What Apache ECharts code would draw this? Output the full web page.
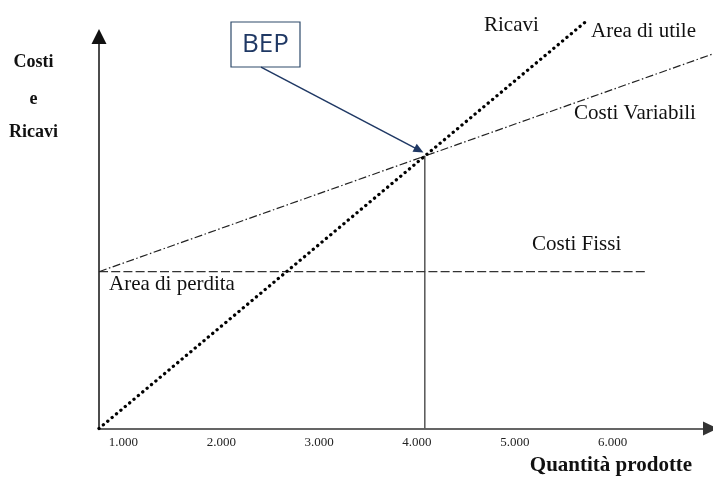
<!DOCTYPE html>
<html>
<head>
<meta charset="utf-8">
<script src="https://cdn.jsdelivr.net/npm/echarts@6/dist/echarts.min.js"></script>
<style>
  html, body { margin: 0; padding: 0; background: #ffffff; }
  #chart { width: 713px; height: 484px; }
</style>
</head>
<body>
<div id="chart"></div>
<script>
// Quantity axis ticks
const xTickValues = [1000, 2000, 3000, 4000, 5000, 6000];
const xTickLabels = ['1.000', '2.000', '3.000', '4.000', '5.000', '6.000'];

// Break-even point (quantity, costs/revenues)
const bepPoint = [4080, 69.5];

// Revenue line (dotted)
const ricavi = [[750, 0], bepPoint, [5735, 104]];
// Total / variable costs line (dash-dot)
const costiVariabili = [[750, 40], bepPoint, [7030, 95.6]];
// Fixed costs line (dashed)
const costiFissi = [[750, 40], [6350, 40]];
// Drop line from the BEP to the quantity axis
const bepDrop = [bepPoint, [bepPoint[0], 0]];
// Pointer from the BEP callout to the break-even point
const bepPointer = [[2406, 92.2], [4021, 71.0]];

const serif = '"Liberation Serif", "Times New Roman", serif';
const navy = '#1f3864';

const chart = echarts.init(document.getElementById('chart'), null, { renderer: 'canvas' });

function label(text, x, y, size, opts) {
  opts = opts || {};
  return {
    type: 'text',
    x: x,
    y: y,
    silent: true,
    style: {
      text: text,
      font: (opts.bold ? 'bold ' : '') + size + 'px ' + serif,
      fill: '#111111',
      align: opts.align || 'left',
      verticalAlign: 'middle'
    }
  };
}

chart.setOption({
  animation: false,
  backgroundColor: '#ffffff',
  grid: { left: 99, right: 2.5, top: 36.5, bottom: 55.5, containLabel: false },
  xAxis: {
    type: 'value',
    min: 750,
    max: 7000,
    splitLine: { show: false },
    axisTick: { show: false },
    axisLine: {
      show: true,
      symbol: ['none', 'triangle'],
      symbolSize: [14, 15],
      lineStyle: { color: '#333333', width: 1.5 }
    },
    axisLabel: {
      show: true,
      customValues: xTickValues,
      formatter: function (v) {
        const i = xTickValues.indexOf(v);
        return i >= 0 ? xTickLabels[i] : '';
      },
      fontFamily: serif,
      fontSize: 13,
      color: '#222222',
      margin: 8
    }
  },
  yAxis: {
    type: 'value',
    min: 0,
    max: 100,
    splitLine: { show: false },
    axisTick: { show: false },
    axisLabel: { show: false },
    axisLine: {
      show: true,
      symbol: ['none', 'triangle'],
      symbolSize: [15, 15],
      lineStyle: { color: '#111111', width: 1.5 }
    }
  },
  series: [
    {
      name: 'BEP drop',
      type: 'line',
      data: bepDrop,
      symbol: 'none',
      silent: true,
      clip: false,
      z: 1,
      lineStyle: { color: '#555555', width: 1.5 }
    },
    {
      name: 'Costi Fissi',
      type: 'line',
      data: costiFissi,
      symbol: 'none',
      silent: true,
      clip: false,
      z: 2,
      lineStyle: { color: '#333333', width: 1.2, type: [9, 3.2] }
    },
    {
      name: 'Costi Variabili',
      type: 'line',
      data: costiVariabili,
      symbol: 'none',
      silent: true,
      clip: false,
      z: 3,
      lineStyle: { color: '#222222', width: 1.2, type: [8, 2.5, 1.5, 2.5] }
    },
    {
      name: 'Ricavi',
      type: 'line',
      data: ricavi,
      symbol: 'none',
      silent: true,
      clip: false,
      z: 4,
      lineStyle: { color: '#000000', width: 3.3, type: [0.1, 5.6], cap: 'round' },
      markLine: {
        silent: true,
        symbol: ['none', 'triangle'],
        symbolSize: [9, 10],
        label: { show: false },
        emphasis: { disabled: true },
        lineStyle: { color: navy, width: 1.5, type: 'solid', cap: 'butt' },
        data: [[{ coord: bepPointer[0] }, { coord: bepPointer[1] }]]
      }
    }
  ],
  graphic: [
    {
      type: 'rect',
      silent: true,
      shape: { x: 231, y: 22, width: 69, height: 45 },
      style: { fill: '#ffffff', stroke: '#2e4a6b', lineWidth: 1.2 }
    },
    {
      type: 'text',
      x: 265.5,
      y: 45,
      silent: true,
      style: {
        text: 'BEP',
        font: '26px "Open Sans", "Liberation Sans", sans-serif',
        fill: navy,
        align: 'center',
        verticalAlign: 'middle'
      }
    },
    label('Costi', 33.5, 62, 18, { bold: true, align: 'center' }),
    label('e', 33.5, 99, 18, { bold: true, align: 'center' }),
    label('Ricavi', 33.5, 132, 18, { bold: true, align: 'center' }),
    label('Ricavi', 484, 25, 21),
    label('Area di utile', 591, 31, 21),
    label('Costi Variabili', 574, 113, 21),
    label('Costi Fissi', 532, 244, 21),
    label('Area di perdita', 109, 284.5, 21),
    label('Quantità prodotte', 611, 466, 21, { bold: true, align: 'center' })
  ]
});
</script>
</body>
</html>
